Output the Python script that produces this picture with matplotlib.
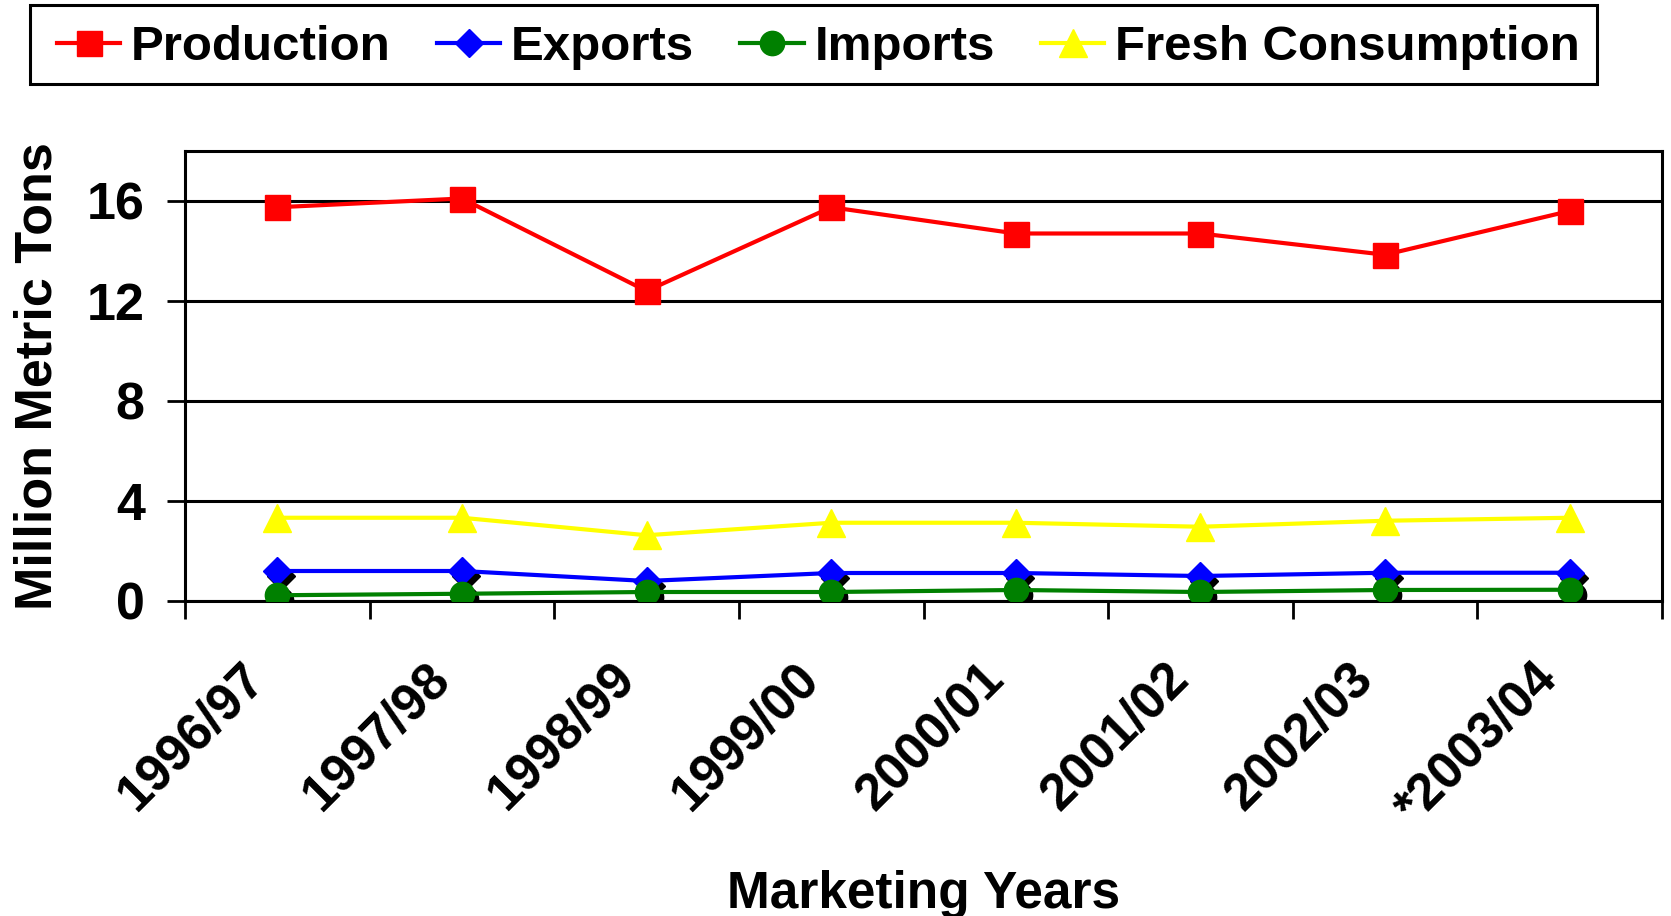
import matplotlib
matplotlib.use("Agg")
import matplotlib.pyplot as plt
from matplotlib.patches import Rectangle
from matplotlib.transforms import ScaledTranslation, offset_copy
import numpy as np

plt.rcParams['font.family'] = ['Liberation Sans', 'DejaVu Sans']
plt.rcParams['font.weight'] = 'bold'

years = ["1996/97", "1997/98", "1998/99", "1999/00",
         "2000/01", "2001/02", "2002/03", "*2003/04"]
production = [15.75, 16.1, 12.4, 15.75, 14.7, 14.7, 13.85, 15.6]
exports = [1.2, 1.2, 0.8, 1.12, 1.12, 1.0, 1.13, 1.13]
imports = [0.23, 0.29, 0.36, 0.36, 0.44, 0.36, 0.44, 0.45]
fresh = [3.33, 3.33, 2.63, 3.13, 3.13, 2.97, 3.21, 3.33]

W, H = 1671, 916
fig = plt.figure(figsize=(W / 100, H / 100), dpi=100)
ax = fig.add_axes([185 / W, 1 - 601 / H, 1477 / W, 450 / H])

x = np.arange(len(years)) + 0.5

# Excel style shadow behind the diamond and circle markers
shadow = offset_copy(ax.transData, fig=fig, x=4, y=-5, units='dots')
ax.plot(x, exports, linestyle='none', marker='D', ms=14.5, color='black',
        transform=shadow, zorder=3)
ax.plot(x, imports, linestyle='none', marker='o', ms=17.5, color='black',
        transform=shadow, zorder=3)

l1, = ax.plot(x, production, color='#FF0000', lw=3, marker='s', ms=18,
              label='Production', zorder=5)
l2, = ax.plot(x, exports, color='#0000FF', lw=3, marker='D', ms=14.5,
              label='Exports', zorder=5)
l3, = ax.plot(x, imports, color='#008000', lw=3, marker='o', ms=17.5,
              label='Imports', zorder=5)
l4, = ax.plot(x, fresh, color='#FFFF00', lw=3, marker='^', ms=20,
              label='Fresh Consumption', zorder=4)

ax.set_xlim(0, len(years))
ax.set_ylim(0, 18)
ax.set_yticks([0, 4, 8, 12, 16])
ax.yaxis.grid(True, color='black', lw=2.2)
ax.set_axisbelow(True)

ax.set_xticks(np.arange(len(years) + 1))
ax.set_xticklabels([])
ax.set_xticks(x, minor=True)
ax.set_xticklabels(years, minor=True, rotation=45, ha='right', va='top',
                   fontsize=37, fontweight='bold')
ax.tick_params(axis='x', which='minor', length=0, pad=38)
ax.tick_params(axis='both', which='major', direction='out', length=13,
               width=2, labelsize=37.5)
shift = ScaledTranslation(-2 / 100, 0, fig.dpi_scale_trans)
for lab in ax.get_xticklabels(minor=True):
    lab.set_transform(lab.get_transform() + shift)
for lab in ax.get_yticklabels():
    lab.set_fontweight('bold')
ax.tick_params(axis='y', pad=16)

for sp in ax.spines.values():
    sp.set_linewidth(2.2)

ax.set_ylabel('Million Metric Tons', fontsize=37.5, fontweight='bold')
ax.yaxis.set_label_coords(-0.083, 0.5)
ax.set_xlabel('Marketing Years', fontsize=37, fontweight='bold')
ax.xaxis.set_label_coords(0.5, -0.598)

# legend frame drawn separately so the padding can follow the original
sh = Rectangle((32 / W, 1 - 86 / H), 1567 / W, 79 / H,
               transform=fig.transFigure, facecolor='#333333',
               edgecolor='none', zorder=0)
frame = Rectangle((30 / W, 1 - 84 / H), 1567 / W, 79 / H,
                  transform=fig.transFigure, facecolor='white',
                  edgecolor='black', lw=2.2, zorder=1)
fig.patches.extend([sh, frame])

leg = fig.legend(handles=[l1, l2, l3, l4], loc='center left',
                 bbox_to_anchor=(57 / W, 1 - 48 / H), ncol=4,
                 fontsize=35.5, frameon=False, borderaxespad=0,
                 borderpad=0, handlelength=1.28, handletextpad=0.22,
                 columnspacing=0.94, markerscale=1.0)
for t in leg.get_texts():
    t.set_fontweight('bold')

fig.savefig('out.png', dpi=100, facecolor='white')
